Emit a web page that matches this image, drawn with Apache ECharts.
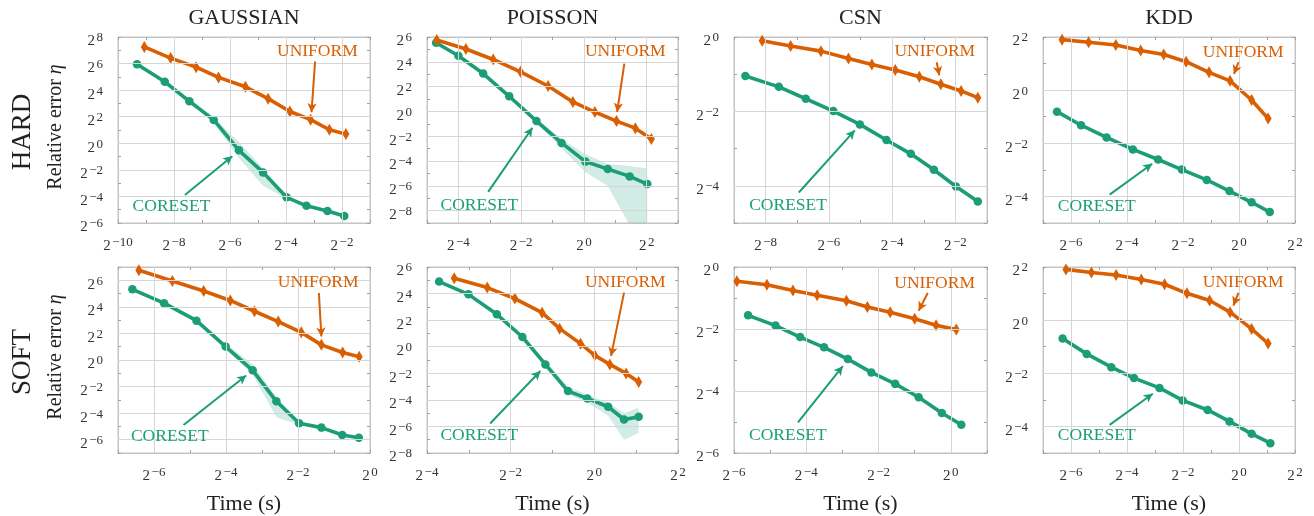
<!DOCTYPE html>
<html><head><meta charset="utf-8">
<script src="https://cdn.jsdelivr.net/npm/echarts@6.0.0/dist/echarts.min.js"></script>
<style>html,body{margin:0;padding:0;background:#fff}#c{width:1314px;height:516px}</style>
</head><body><div id="c"></div><script>
// Column titles and row labels
const datasets = ['GAUSSIAN', 'POISSON', 'CSN', 'KDD'];
const modes = ['HARD', 'SOFT'];

// All values are log2 exponents: [log2(time s), log2(relative error)]
const hardGaussianUniform = [[-9.06,7.25],[-8.12,6.41],[-7.21,5.73],[-6.41,4.96],[-5.45,4.25],[-4.64,3.36],[-3.86,2.39],[-3.12,1.78],[-2.45,1.02],[-1.86,0.69]];
const hardGaussianCoreset = [[-9.32,5.95],[-8.33,4.63],[-7.45,3.16],[-6.58,1.76],[-5.68,-0.53],[-4.82,-2.19],[-3.98,-4.07],[-3.27,-4.71],[-2.52,-5.09],[-1.92,-5.47]];
const hardGaussianBand = [[-7.45,3.16,3.16],[-6.58,1.5,1.95],[-5.68,-1.1,0.1],[-4.82,-3.2,-1.9],[-3.98,-4.2,-3.95],[-3.27,-4.71,-4.71]];

const hardPoissonUniform = [[-4.69,5.76],[-3.76,5.03],[-2.89,4.19],[-2.02,3.19],[-1.14,2.05],[-0.35,0.76],[0.35,-0.05],[1.04,-0.78],[1.64,-1.35],[2.15,-2.22]];
const hardPoissonCoreset = [[-4.71,5.54],[-4.0,4.49],[-3.21,3.05],[-2.38,1.22],[-1.51,-0.78],[-0.71,-2.54],[0.05,-4.05],[0.76,-4.65],[1.46,-5.24],[2.02,-5.86]];
const hardPoissonBand = [[-2.38,1.22,1.22],[-1.51,-0.95,-0.6],[-0.71,-3.0,-2.2],[0.05,-4.9,-3.45],[0.76,-6.0,-4.25],[1.46,-9.2,-4.4],[2.02,-9.6,-4.6]];

const hardCsnUniform = [[-8.11,-0.10],[-7.21,-0.24],[-6.25,-0.38],[-5.38,-0.58],[-4.64,-0.74],[-3.90,-0.89],[-3.14,-1.07],[-2.46,-1.27],[-1.82,-1.45],[-1.29,-1.63]];
const hardCsnCoreset = [[-8.64,-1.05],[-7.58,-1.34],[-6.73,-1.66],[-5.86,-1.99],[-5.02,-2.35],[-4.18,-2.77],[-3.41,-3.14],[-2.68,-3.57],[-1.98,-4.02],[-1.29,-4.42]];

const hardKddUniform = [[-6.32,1.90],[-5.37,1.80],[-4.40,1.70],[-3.51,1.49],[-2.69,1.34],[-1.89,1.07],[-1.07,0.67],[-0.32,0.35],[0.45,-0.37],[1.04,-1.07]];
const hardKddCoreset = [[-6.50,-0.81],[-5.64,-1.32],[-4.73,-1.78],[-3.79,-2.23],[-2.89,-2.61],[-2.04,-2.99],[-1.15,-3.38],[-0.34,-3.80],[0.45,-4.22],[1.10,-4.59]];

const softGaussianUniform = [[-6.42,6.76],[-5.49,5.95],[-4.62,5.19],[-3.88,4.48],[-3.21,3.67],[-2.55,2.89],[-1.91,2.08],[-1.35,1.14],[-0.76,0.56],[-0.30,0.25]];
const softGaussianCoreset = [[-6.60,5.32],[-5.72,4.28],[-4.82,2.96],[-4.01,1.01],[-3.26,-0.78],[-2.60,-3.11],[-1.97,-4.76],[-1.35,-5.09],[-0.77,-5.65],[-0.31,-5.85]];
const softGaussianBand = [[-4.82,2.96,2.96],[-4.01,0.8,1.2],[-3.26,-1.1,-0.3],[-2.60,-4.3,-2.8],[-1.97,-4.9,-4.6],[-1.35,-5.09,-5.09]];

const softPoissonUniform = [[-3.35,5.15],[-2.56,4.45],[-1.90,3.62],[-1.25,2.56],[-0.83,1.36],[-0.33,0.23],[0.01,-0.65],[0.37,-1.33],[0.76,-2.01],[1.06,-2.66]];
const softPoissonCoreset = [[-3.71,4.90],[-3.01,3.94],[-2.33,2.44],[-1.72,0.73],[-1.17,-1.33],[-0.63,-3.34],[-0.17,-3.89],[0.33,-4.52],[0.71,-5.48],[1.06,-5.28]];
const softPoissonBand = [[-1.72,0.73,0.73],[-1.17,-1.5,-1.1],[-0.63,-3.6,-3.0],[-0.17,-4.2,-3.6],[0.33,-5.2,-4.2],[0.71,-7.0,-5.0],[1.06,-6.5,-4.6]];

const softCsnUniform = [[-5.92,-0.46],[-5.09,-0.57],[-4.37,-0.76],[-3.70,-0.91],[-2.89,-1.09],[-2.31,-1.29],[-1.68,-1.46],[-1.0,-1.67],[-0.41,-1.88],[0.15,-2.02]];
const softCsnCoreset = [[-5.61,-1.56],[-4.85,-1.89],[-4.17,-2.26],[-3.51,-2.59],[-2.85,-2.97],[-2.20,-3.40],[-1.54,-3.77],[-0.89,-4.20],[-0.25,-4.71],[0.29,-5.09]];

const softKddUniform = [[-6.18,1.91],[-5.27,1.79],[-4.39,1.70],[-3.49,1.53],[-2.66,1.35],[-1.86,1.01],[-1.05,0.74],[-0.32,0.30],[0.45,-0.33],[1.04,-0.88]];
const softKddCoreset = [[-6.30,-0.69],[-5.44,-1.27],[-4.56,-1.77],[-3.75,-2.18],[-2.84,-2.55],[-2.01,-3.02],[-1.12,-3.38],[-0.34,-3.81],[0.45,-4.28],[1.12,-4.63]];

// Axis ranges (log2 exponents) per panel, row-major
const xRanges = [[-10,-1],[-5,3],[-9,-1],[-7,2],[-7,0],[-4,2],[-6,1],[-7,2]];
const yRanges = [[-6,8],[-9,6],[-5,0],[-5,2],[-7,7],[-8,6],[-6,0],[-5,2]];

// Annotation anchors in data space: [textX, textY, arrowFromX, arrowFromY, arrowToX, arrowToY]
const uniformNotes = [[-2.88,6.92,-2.96,6.16,-3.09,2.34],[1.32,4.81,1.29,3.86,1.06,-0.05],[-2.65,-0.40,-2.59,-0.68,-2.51,-1.03],[0.15,1.42,-0.02,1.05,-0.18,0.61],
                      [-1.44,5.87,-1.42,5.04,-1.35,1.77],[0.74,4.82,0.71,4.07,0.40,-0.70],[-0.45,-0.52,-0.64,-0.84,-0.89,-1.41],[0.15,1.41,-0.02,1.03,-0.20,0.55]];
const coresetNotes = [[-8.09,-4.78,-7.61,-3.89,-5.92,-0.97],[-3.33,-7.62,-3.05,-6.49,-1.64,-1.32],[-7.29,-4.54,-6.95,-4.18,-5.18,-2.51],[-5.08,-4.38,-4.62,-3.93,-3.10,-2.77],
                      [-5.56,-5.72,-5.18,-4.89,-3.44,-1.16],[-2.75,-6.68,-2.49,-5.78,-1.29,-1.83],[-4.51,-5.44,-4.23,-5.01,-2.99,-3.20],[-5.08,-4.35,-4.62,-3.94,-3.08,-2.77]];

const uniformSeries = [hardGaussianUniform, hardPoissonUniform, hardCsnUniform, hardKddUniform, softGaussianUniform, softPoissonUniform, softCsnUniform, softKddUniform];
const coresetSeries = [hardGaussianCoreset, hardPoissonCoreset, hardCsnCoreset, hardKddCoreset, softGaussianCoreset, softPoissonCoreset, softCsnCoreset, softKddCoreset];
const coresetBands = [hardGaussianBand, hardPoissonBand, null, null, softGaussianBand, softPoissonBand, null, null];

const SERIF = '"Liberation Serif", "DejaVu Serif", serif';
const ORANGE = '#d95f02', GREEN = '#1b9e77';
const gridLefts = [118, 427, 734, 1043];
const gridWidths = [252, 251, 253, 252];
const gridTops = [37, 267];
const gridHeight = 186;

const rich = {
  b: { fontSize: 15, fontFamily: SERIF, color: '#333', lineHeight: 20, padding: [0, 1.5, 0, 0] },
  s: { fontSize: 13, fontFamily: SERIF, color: '#333', lineHeight: 8, verticalAlign: 'top' }
};
const pow2 = v => (Math.abs(v % 2) === 0) ? '{b|2}{s|' + (v < 0 ? '\u2212' + (-v) : String(v)) + '}' : '';

const grids = [], xAxes = [], yAxes = [], series = [];
for (let i = 0; i < 8; i++) {
  const r = Math.floor(i / 4), c = i % 4;
  grids.push({ left: gridLefts[c], top: gridTops[r], width: gridWidths[c], height: gridHeight,
               show: true, borderColor: '#c4c4c4', borderWidth: 1, backgroundColor: 'transparent' });
  const common = (rng) => ({ type: 'value', gridIndex: i, min: rng[0], max: rng[1], interval: 1,
    axisLine: { show: true, onZero: false, lineStyle: { color: '#c4c4c4', width: 1 } },
    axisTick: { show: true, inside: true, length: 3, lineStyle: { color: '#a0a0a0' } },
    splitLine: { show: false } });
  xAxes.push(Object.assign(common(xRanges[i]), { position: 'bottom', axisLabel: { formatter: pow2, rich, margin: 13 } }));
  xAxes.push(Object.assign(common(xRanges[i]), { position: 'top', axisLabel: { show: false } }));
  yAxes.push(Object.assign(common(yRanges[i]), { position: 'left', axisLabel: { formatter: pow2, rich, margin: 15, padding: [9, 0, 0, 0] } }));
  yAxes.push(Object.assign(common(yRanges[i]), { position: 'right', axisLabel: { show: false } }));

  // major grid lines at even exponents
  const gl = [];
  for (let v = Math.ceil(xRanges[i][0]) + 1; v < xRanges[i][1]; v++) if (v % 2 === 0) gl.push({ xAxis: v });
  for (let v = Math.ceil(yRanges[i][0]) + 1; v < yRanges[i][1]; v++) if (v % 2 === 0) gl.push({ yAxis: v });
  series.push({ type: 'line', xAxisIndex: 2 * i, yAxisIndex: 2 * i, data: [[xRanges[i][0], yRanges[i][0]]],
    symbol: 'none', lineStyle: { opacity: 0 }, silent: true, z: 0,
    markLine: { silent: true, symbol: ['none', 'none'], label: { show: false }, animation: false,
      lineStyle: { color: '#d6d6d6', width: 1, type: 'solid' }, emphasis: { disabled: true }, data: gl } });

  const band = coresetBands[i];
  if (band) {
    series.push({ type: 'custom', xAxisIndex: 2 * i, yAxisIndex: 2 * i, silent: true, z: 1,
      data: [[band[0][0], band[0][1]]],
      renderItem: (params, api) => {
        const up = band.map(b => api.coord([b[0], b[2]]));
        const lo = band.map(b => api.coord([b[0], b[1]])).reverse();
        const cs = params.coordSys;
        return { type: 'polygon', shape: { points: up.concat(lo) },
          style: { fill: 'rgba(27,158,119,0.2)' },
          clipPath: { type: 'rect', shape: { x: cs.x, y: cs.y, width: cs.width, height: cs.height } } };
      } });
  }

  const cn = coresetNotes[i], un = uniformNotes[i];
  series.push({ type: 'line', name: 'CORESET', xAxisIndex: 2 * i, yAxisIndex: 2 * i, data: coresetSeries[i], z: 3,
    color: GREEN, lineStyle: { width: 3.6, color: GREEN }, symbol: 'circle', symbolSize: 8.5,
    itemStyle: { color: GREEN }, silent: true,
    markLine: { silent: true, symbol: ['none', 'arrow'], symbolSize: [7, 9], label: { show: false },
      lineStyle: { color: GREEN, width: 2, type: 'solid' }, emphasis: { disabled: true },
      data: [[{ coord: [cn[2], cn[3]] }, { coord: [cn[4], cn[5]] }]] },
    markPoint: { silent: true, symbol: 'rect', symbolSize: 1, itemStyle: { color: 'rgba(0,0,0,0)' },
      label: { show: true, position: 'inside', formatter: 'CORESET', color: GREEN, fontSize: 17.5, fontFamily: SERIF },
      data: [{ coord: [cn[0], cn[1]] }] } });
  series.push({ type: 'line', name: 'UNIFORM', xAxisIndex: 2 * i, yAxisIndex: 2 * i, data: uniformSeries[i], z: 4,
    color: ORANGE, lineStyle: { width: 3.6, color: ORANGE }, symbol: 'diamond', symbolSize: [7, 12],
    itemStyle: { color: ORANGE }, silent: true,
    markLine: { silent: true, symbol: ['none', 'arrow'], symbolSize: [7, 9], label: { show: false },
      lineStyle: { color: ORANGE, width: 2, type: 'solid' }, emphasis: { disabled: true },
      data: [[{ coord: [un[2], un[3]] }, { coord: [un[4], un[5]] }]] },
    markPoint: { silent: true, symbol: 'rect', symbolSize: 1, itemStyle: { color: 'rgba(0,0,0,0)' },
      label: { show: true, position: 'inside', formatter: 'UNIFORM', color: ORANGE, fontSize: 17.5, fontFamily: SERIF },
      data: [{ coord: [un[0], un[1]] }] } });
}

const graphic = [];
datasets.forEach((d, c) => {
  graphic.push({ type: 'text', x: gridLefts[c] + gridWidths[c] / 2, y: 18,
    style: { text: d, fill: '#222', font: '22px ' + SERIF, align: 'center', verticalAlign: 'middle' } });
  graphic.push({ type: 'text', x: gridLefts[c] + gridWidths[c] / 2, y: 504,
    style: { text: 'Time (s)', fill: '#222', font: '22px ' + SERIF, align: 'center', verticalAlign: 'middle' } });
});
modes.forEach((m, r) => {
  const cy = gridTops[r] + gridHeight / 2;
  graphic.push({ type: 'text', x: 23, y: cy + 2, rotation: Math.PI / 2,
    style: { text: m, fill: '#222', font: '27px ' + SERIF, align: 'center', verticalAlign: 'middle' } });
  graphic.push({ type: 'text', x: 56, y: cy - 3, rotation: Math.PI / 2,
    style: { text: 'Relative error {i|η}', fill: '#222', font: '20px ' + SERIF, align: 'center', verticalAlign: 'middle',
      rich: { i: { fontStyle: 'italic', fontSize: 20, fontFamily: SERIF, fill: '#222' } } } });
});

const chart = echarts.init(document.getElementById('c'), null, { renderer: 'canvas' });
chart.setOption({ animation: false, backgroundColor: '#fff', grid: grids, xAxis: xAxes, yAxis: yAxes, series, graphic });
</script></body></html>
